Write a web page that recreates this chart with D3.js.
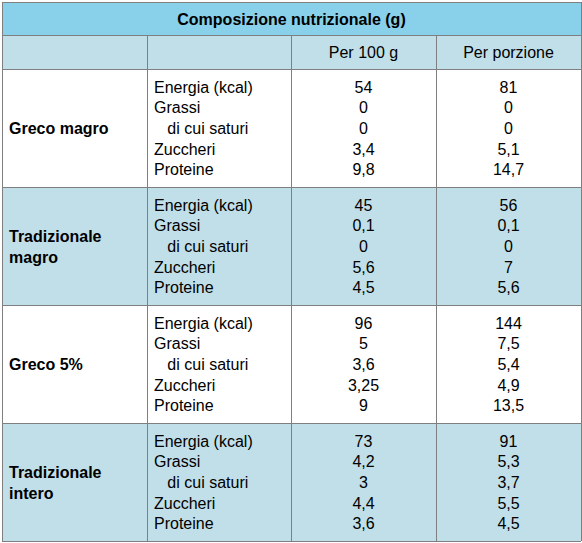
<!DOCTYPE html>
<html><head><meta charset="utf-8">
<script src="https://cdn.jsdelivr.net/npm/d3@7"></script>
<style>body{margin:0;background:#fff}</style>
</head><body><div id="chart"></div>
<script>
// Dati
const title = "Composizione nutrizionale (g)"
const colHeaders = ["", "", "Per 100 g", "Per porzione"]
const groups = [["Greco magro"], ["Tradizionale", "magro"], ["Greco 5%"], ["Tradizionale", "intero"]]
const nutrients = ["Energia (kcal)", "Grassi", "   di cui saturi", "Zuccheri", "Proteine"]
const per100 = [
    ["54", "0", "0", "3,4", "9,8"],
    ["45", "0,1", "0", "5,6", "4,5"],
    ["96", "5", "3,6", "3,25", "9"],
    ["73", "4,2", "3", "4,4", "3,6"]
]
const perPortion = [
    ["81", "0", "0", "5,1", "14,7"],
    ["56", "0,1", "0", "7", "5,6"],
    ["144", "7,5", "5,4", "4,9", "13,5"],
    ["91", "5,3", "3,7", "5,5", "4,5"]
]

const width = 582, height = 543
const tLeft = 2, tRight = 581, tTop = 2, tBottom = 541
const titleH = 33, headH = 34
const cols = [tLeft, 147, 291, 436, tRight]
const font = "Helvetica, 'Liberation Sans', Arial, sans-serif"

const svg = d3.select("#chart").append("svg").attr("width", width).attr("height", height)
    .style("font-family", font).style("font-size", "16px")

const y = d3.scaleBand().domain(d3.range(groups.length)).range([tTop + titleH + headH, tBottom])
const rowY = d3.scaleBand().domain(d3.range(nutrients.length)).range([0, y.bandwidth()]).paddingOuter(0.35)

// Sfondi
svg.append("rect").attr("x", tLeft).attr("y", tTop).attr("width", tRight - tLeft).attr("height", titleH).attr("fill", "#89d0ea")
svg.append("rect").attr("x", tLeft).attr("y", tTop + titleH).attr("width", tRight - tLeft).attr("height", headH).attr("fill", "#c1dfe8")
svg.selectAll(".band").data(groups).enter().append("rect")
    .attr("x", tLeft).attr("y", (d, i) => y(i)).attr("width", tRight - tLeft).attr("height", y.bandwidth())
    .attr("fill", (d, i) => i % 2 ? "#c1dfe8" : "#fff")

// Testi
svg.append("text").attr("x", (tLeft + tRight) / 2).attr("y", tTop + titleH / 2 + 6).attr("text-anchor", "middle")
    .attr("font-weight", "bold").text(title)
svg.selectAll(".colh").data(colHeaders).enter().append("text")
    .attr("x", (d, i) => (cols[i] + cols[i + 1]) / 2).attr("y", tTop + titleH + headH / 2 + 6)
    .attr("text-anchor", "middle").text(d => d)

groups.forEach((g, gi) => {
    const cy = y(gi) + y.bandwidth() / 2
    svg.append("text").attr("font-weight", "bold").attr("x", 9)
        .selectAll("tspan").data(g).enter().append("tspan")
        .attr("x", 9).attr("y", (d, i) => cy + 6 + (i - (g.length - 1) / 2) * 21).text(d => d)
    const gy = d => y(gi) + rowY(d) + rowY.bandwidth() / 2 + 6
    nutrients.forEach((n, ri) => {
        svg.append("text").attr("x", 154).attr("y", gy(ri)).style("white-space", "pre").text(n)
        svg.append("text").attr("x", (cols[2] + cols[3]) / 2).attr("y", gy(ri)).attr("text-anchor", "middle").text(per100[gi][ri])
        svg.append("text").attr("x", (cols[3] + cols[4]) / 2).attr("y", gy(ri)).attr("text-anchor", "middle").text(perPortion[gi][ri])
    })
})

// Bordi
const stroke = "#7f7f7f"
const hLines = [tTop, tTop + titleH].concat(d3.range(groups.length).map(i => y(i))).concat([tBottom])
svg.selectAll(".hl").data(hLines).enter().append("line")
    .attr("x1", tLeft).attr("x2", tRight).attr("y1", d => d + 0.5).attr("y2", d => d + 0.5).attr("stroke", stroke)
svg.selectAll(".vl").data(cols).enter().append("line")
    .attr("x1", d => d + 0.5).attr("x2", d => d + 0.5)
    .attr("y1", (d, i) => (i === 0 || i === cols.length - 1) ? tTop : tTop + titleH).attr("y2", tBottom)
    .attr("stroke", stroke)
</script>
</body></html>
